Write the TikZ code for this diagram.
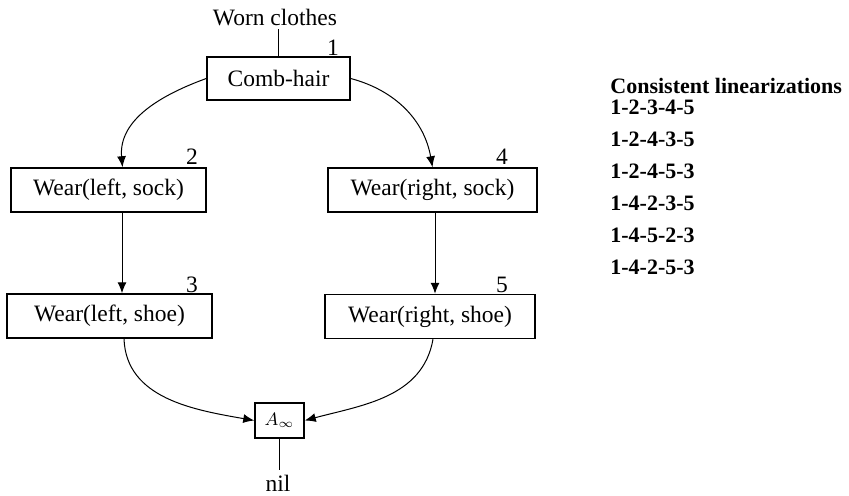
\documentclass[tikz,border=0pt]{standalone}
\usepackage{fontspec}
\setmainfont{Liberation Serif}
\usepackage{tikz}
\usetikzlibrary{positioning,arrows.meta,calc}
\tikzset{
  step box/.style={draw,line width=0.75pt,minimum height=22pt,inner sep=1pt,font=\fontsize{11.75}{14}\selectfont},
  num/.style={font=\fontsize{11.75}{14}\selectfont,inner sep=0pt},
  plain/.style={font=\fontsize{11.75}{14}\selectfont,inner sep=1pt},
  lin/.style={font=\bfseries\fontsize{11}{13}\selectfont,anchor=west,inner sep=0pt},
  arr/.style={-{Latex[length=5.5pt,width=4.5pt]},line width=0.5pt},
  tie/.style={line width=0.6pt},
}
\begin{document}
\begin{tikzpicture}[x=0.5pt,y=-0.5pt]
\useasboundingbox (0,0) rectangle (849,496);
\node[plain] (worn) at (275,18) {Worn clothes};
\node[step box,minimum width=71.5pt,minimum height=21.5pt] (comb) at (278.5,78.5) {Comb-hair};
\node[step box,minimum width=97.5pt] (lsock) at (108.5,190) {Wear(left, sock)};
\node[step box,minimum width=102.5pt] (lshoe) at (109.5,316) {Wear(left, shoe)};
\node[step box,minimum width=104.5pt] (rsock) at (432.5,190) {Wear(right, sock)};
\node[step box,minimum width=105pt] (rshoe) at (430,316.5) {Wear(right, shoe)};
\node[step box,minimum width=24.5pt,minimum height=17.5pt,font=\small] (fin) at (279.5,420.5) {$A_{\infty}$};
\node[plain,inner sep=0pt,anchor=base] (nil) at (278,491) {nil};
% step numbers
\node[num] (n1) at (333,48) {1};
\node[num] (n2) at (192,157) {2};
\node[num] (n3) at (192,285) {3};
\node[num] (n4) at (502,157) {4};
\node[num] (n5) at (502,285) {5};
% orderings
\node[lin] (t0) at (610,86) {Consistent linearizations};
\node[lin] (t1) at (610,107) {1-2-3-4-5};
\node[lin] (t2) at (610,139) {1-2-4-3-5};
\node[lin] (t3) at (610,171) {1-2-4-5-3};
\node[lin] (t4) at (610,203) {1-4-2-3-5};
\node[lin] (t5) at (610,235) {1-4-5-2-3};
\node[lin] (t6) at (610,267) {1-4-2-5-3};
% links
\draw[tie] (comb.north) -- (comb.north |- worn.south);
\draw[tie] (fin.south) -- ([yshift=2pt]fin.south |- nil.north);
\draw[arr] (comb.west) to[out=200,in=95] ([xshift=7pt]lsock.north);
\draw[arr] (comb.east) to[out=-15,in=100] (rsock.north);
\draw[arr] ([xshift=6.75pt]lsock.south) -- ([xshift=6.75pt]lsock.south |- lshoe.north);
\draw[arr] ([xshift=1.25pt]rsock.south) -- ([xshift=1.25pt]rsock.south |- rshoe.north);
\draw[arr] ([xshift=7.25pt]lshoe.south) to[out=-88,in=170] (fin.west);
\draw[arr] ([xshift=1.5pt]rshoe.south) to[out=-100,in=15] (fin.east);
\end{tikzpicture}
\end{document}
